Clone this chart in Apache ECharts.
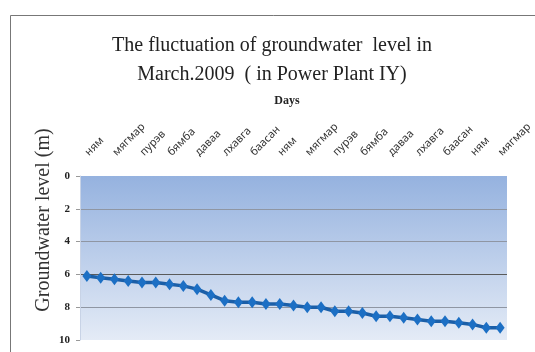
<!DOCTYPE html>
<html><head><meta charset="utf-8">
<script src="https://cdn.jsdelivr.net/npm/echarts@6/dist/echarts.min.js"></script>
<style>html,body{margin:0;padding:0;background:#fff}#c{width:535px;height:352px}</style>
</head><body><div id="c"></div>
<script>
const days = ['ням','даваа','мягмар','лхагва','пурэв','баасан','бямба',
  'ням','даваа','мягмар','лхавга','пурэв','баасан','бямба',
  'ням','даваа','мягмар','лхавга','пурэв','баасан','бямба',
  'ням','даваа','мягмар','лхавга','пурэв','баасан','бямба',
  'ням','даваа','мягмар'];
const levels = [6.1,6.2,6.3,6.4,6.5,6.5,6.6,6.7,6.9,7.25,
  7.6,7.7,7.7,7.8,7.8,7.9,8.0,8.0,8.25,8.25,
  8.35,8.55,8.55,8.65,8.75,8.85,8.85,8.95,9.05,9.25,9.25];
const yTicks = [0,2,4,6,8,10];
const titleText = 'The fluctuation of groundwater  level in\nMarch.2009  ( in Power Plant IY)';
const xName = 'Days';
const yName = 'Groundwater level (m)';

const chart = echarts.init(document.getElementById('c'));
chart.setOption({
  animation:false,
  backgroundColor:'#fff',
  title:[
    {text:titleText, left:267, top:26, textAlign:'center',
     textStyle:{fontFamily:'Liberation Serif', fontSize:20, fontWeight:'normal', color:'#222', lineHeight:29}},
    {text:xName, left:282, top:90, textAlign:'center',
     textStyle:{fontFamily:'Liberation Serif', fontSize:12, fontWeight:'bold', color:'#222'}}
  ],
  graphic:[
    {type:'rect', left:8, top:13, shape:{width:540, height:350}, style:{fill:'none', stroke:'#777', lineWidth:1}, silent:true},
    {type:'text', x:44, y:220, rotation:Math.PI/2,
     style:{text:yName, font:'20px "Liberation Serif"', fill:'#333', align:'center', verticalAlign:'middle'}}
  ],
  grid:{left:80, right:27, top:176, bottom:12, show:true, borderWidth:0,
    backgroundColor:{type:'linear', x:0, y:0, x2:0, y2:1,
      colorStops:[{offset:0,color:'#95b2df'},{offset:1,color:'#e4ebf6'}]}},
  xAxis:{type:'category', position:'top', data:days, boundaryGap:true,
    axisLine:{show:false}, axisTick:{show:false},
    axisLabel:{interval:1, rotate:45, margin:22, fontFamily:'Noto Sans', fontSize:11, color:'#333'}},
  yAxis:{type:'value', inverse:true, min:yTicks[0], max:yTicks[yTicks.length-1], interval:2,
    axisLine:{show:true, lineStyle:{color:'#c8d3e6'}},
    axisTick:{show:true, length:4, lineStyle:{color:'#999'}},
    axisLabel:{fontFamily:'Liberation Serif', fontWeight:'bold', fontSize:11, color:'#222', margin:10},
    splitLine:{show:true, lineStyle:{color:['rgba(0,0,0,0)','#8f96a3','#8f96a3','#5a5a5a','#8f96a3','rgba(0,0,0,0)'], width:1}}},
  series:[{type:'line', data:levels, symbol:'diamond', symbolSize:[9,12], showSymbol:true, showAllSymbol:true,
    lineStyle:{color:'#1b5fa8', width:3.5},
    itemStyle:{color:'#1c6fc4'}}]
});
</script></body></html>
